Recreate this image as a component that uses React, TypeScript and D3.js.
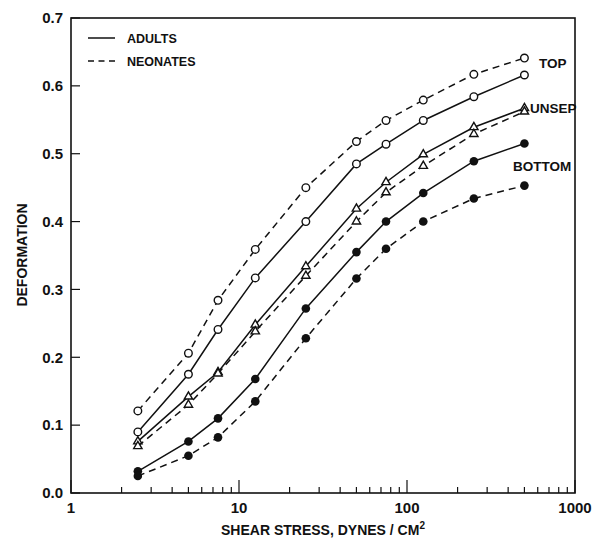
import React from 'react';
import * as d3 from 'd3';

// shear stress values (dynes/cm2)
const stress = [2.5, 5, 7.5, 12.5, 25, 50, 75, 125, 250, 500];

const adultTop = [0.09, 0.175, 0.241, 0.317, 0.4, 0.485, 0.514, 0.549, 0.584, 0.616];
const neoTop = [0.121, 0.206, 0.284, 0.359, 0.45, 0.518, 0.549, 0.579, 0.617, 0.641];
const adultUnsep = [0.076, 0.142, 0.178, 0.248, 0.334, 0.419, 0.458, 0.499, 0.539, 0.567];
const neoUnsep = [0.069, 0.13, 0.176, 0.238, 0.32, 0.4, 0.443, 0.482, 0.529, 0.562];
const adultBottom = [0.032, 0.076, 0.11, 0.168, 0.272, 0.355, 0.4, 0.442, 0.489, 0.515];
const neoBottom = [0.025, 0.055, 0.082, 0.135, 0.228, 0.316, 0.36, 0.4, 0.434, 0.453];

const yTicks = [0, 0.1, 0.2, 0.3, 0.4, 0.5, 0.6, 0.7];
const xMajor = [1, 10, 100, 1000];

const series = [
  { name: 'adultTop', values: adultTop, dashed: false, marker: 'open' },
  { name: 'neoTop', values: neoTop, dashed: true, marker: 'open' },
  { name: 'adultUnsep', values: adultUnsep, dashed: false, marker: 'tri' },
  { name: 'neoUnsep', values: neoUnsep, dashed: true, marker: 'tri' },
  { name: 'adultBottom', values: adultBottom, dashed: false, marker: 'filled' },
  { name: 'neoBottom', values: neoBottom, dashed: true, marker: 'filled' },
];

const ink = '#111';
const font = '"Liberation Sans", Arial, Helvetica, sans-serif';

export default function App() {
  const x = d3.scaleLog().domain([1, 1000]).range([71, 575]);
  const y = d3.scaleLinear().domain([0, 0.7]).range([493, 18]);

  const minor: number[] = [];
  [1, 10, 100].forEach((d) => {
    for (let k = 2; k <= 9; k++) minor.push(d * k);
  });

  const line = d3
    .line<number>()
    .x((_, i) => x(stress[i]))
    .y((v) => y(v));

  const tri = d3.symbol().type(d3.symbolTriangle).size(30)();

  return (
    <svg
      width={600}
      height={541}
      style={{ position: 'absolute', left: 0, top: 0, background: '#fff' }}
      fontFamily={font}
      fontWeight="bold"
    >
      <rect x={0} y={0} width={600} height={541} fill="#fff" />
      {/* frame */}
      <rect x={71} y={18} width={504} height={475} fill="none" stroke={ink} strokeWidth={1.6} />

      {/* y ticks */}
      {yTicks.map((t) => (
        <g key={'y' + t}>
          <line x1={71} x2={80} y1={y(t)} y2={y(t)} stroke={ink} strokeWidth={1.2} />
          <text x={63} y={y(t)} dy="0.35em" textAnchor="end" fontSize={15} fill={ink}>
            {t.toFixed(1)}
          </text>
        </g>
      ))}

      {/* x ticks */}
      {minor.map((t) => (
        <line key={'m' + t} x1={x(t)} x2={x(t)} y1={493} y2={487} stroke={ink} strokeWidth={1.2} />
      ))}
      {xMajor.map((t) => (
        <g key={'x' + t}>
          <line x1={x(t)} x2={x(t)} y1={493} y2={480} stroke={ink} strokeWidth={1.2} />
          <text x={x(t)} y={513} textAnchor="middle" fontSize={15} fill={ink}>
            {t}
          </text>
        </g>
      ))}

      {/* axis titles */}
      <text
        transform="translate(27,255) rotate(-90)"
        textAnchor="middle"
        fontSize={14}
        fill={ink}
      >
        DEFORMATION
      </text>
      <text x={323} y={535} textAnchor="middle" fontSize={14} fill={ink}>
        SHEAR STRESS, DYNES / CM
        <tspan dy={-6} fontSize={10}>2</tspan>
      </text>

      {/* series */}
      {series.map((s) => (
        <g key={s.name}>
          <path
            d={line(s.values) || ''}
            fill="none"
            stroke={ink}
            strokeWidth={1.5}
            strokeDasharray={s.dashed ? '7,5' : undefined}
          />
          {s.values.map((v, i) => {
            const cx = x(stress[i]);
            const cy = y(v);
            if (s.marker === 'tri')
              return (
                <path
                  key={i}
                  d={tri || ''}
                  transform={`translate(${cx},${cy})`}
                  fill="#fff"
                  stroke={ink}
                  strokeWidth={1.4}
                />
              );
            if (s.marker === 'open')
              return <circle key={i} cx={cx} cy={cy} r={3.8} fill="#fff" stroke={ink} strokeWidth={1.4} />;
            return <circle key={i} cx={cx} cy={cy} r={4.3} fill={ink} />;
          })}
        </g>
      ))}

      {/* curve labels */}
      <text x={539} y={68} fontSize={13.5} fill={ink}>TOP</text>
      <text x={530} y={113} fontSize={13.5} fill={ink}>UNSEP</text>
      <text x={513} y={171} fontSize={13.5} fill={ink}>BOTTOM</text>

      {/* legend */}
      <line x1={88} x2={115} y1={38} y2={38} stroke={ink} strokeWidth={1.5} />
      <text x={127} y={43} fontSize={12.5} fill={ink}>ADULTS</text>
      <line x1={88} x2={115} y1={61} y2={61} stroke={ink} strokeWidth={1.5} strokeDasharray="6,4.5" />
      <text x={127} y={66} fontSize={12.5} fill={ink}>NEONATES</text>
    </svg>
  );
}
